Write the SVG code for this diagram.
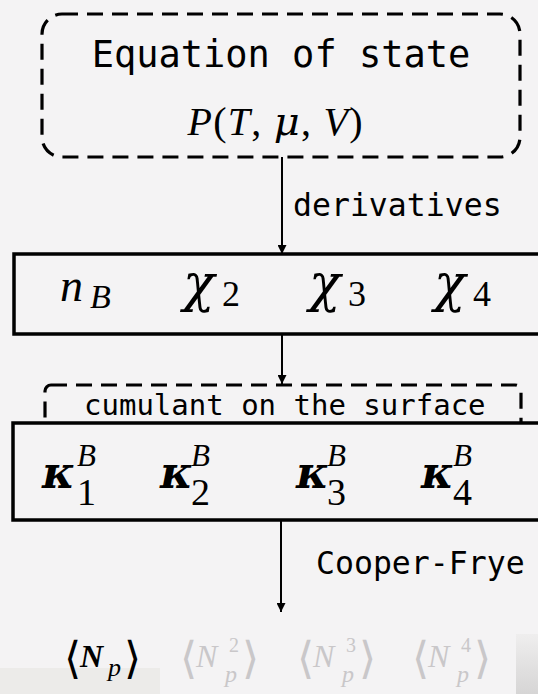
<svg xmlns="http://www.w3.org/2000/svg" width="538" height="694" viewBox="0 0 538 694">
<style>
.mono{font-family:"DejaVu Sans Mono",monospace;fill:#000}
.m{font-family:"Liberation Serif",serif;font-style:italic;fill:#000}
.r{font-family:"Liberation Serif",serif;font-style:normal;fill:#000}
.b{font-family:"Liberation Serif",serif;font-style:italic;font-weight:bold;fill:#000}
.gk{font-family:"DejaVu Serif",serif;font-style:italic;fill:#000}
.gkb{font-family:"DejaVu Serif",serif;font-style:italic;font-weight:bold;fill:#000}
.br{font-family:"DejaVu Serif",serif;font-style:normal;font-weight:normal}
.dash{fill:none;stroke:#000;stroke-width:3.2;stroke-dasharray:16 9}
.solid{fill:#f4f3f4;stroke:#000;stroke-width:3.5}
.conn{stroke:#000;stroke-width:2;fill:none}
.g{fill:#c9c7c9}
</style>
<defs>
<marker id="ah" viewBox="0 0 10 10" refX="10" refY="5" markerWidth="5" markerHeight="4.5" markerUnits="strokeWidth" orient="auto">
<path d="M0,0 L10,5 L0,10 z" fill="#000"/>
</marker>
<linearGradient id="shade" x1="0" y1="0" x2="0" y2="1">
<stop offset="0" stop-color="#efeeee"/>
<stop offset="1" stop-color="#d6d5d5"/>
</linearGradient>
</defs>
<rect x="0" y="0" width="538" height="694" fill="#f4f3f4"/>
<rect x="0" y="668" width="160" height="26" fill="#ecebe9"/>
<rect x="516" y="634" width="22" height="60" fill="url(#shade)"/>

<g id="eos">
<rect class="dash" x="42" y="14" width="478" height="143" rx="20"/>
<text class="mono" x="281" y="67" font-size="37" text-anchor="middle">Equation of state</text>
<text x="275" y="135" font-size="40" text-anchor="middle" textLength="175" lengthAdjust="spacing"><tspan class="m">P</tspan><tspan class="r">(</tspan><tspan class="m">T</tspan><tspan class="r">, </tspan><tspan class="gk">μ</tspan><tspan class="r">, </tspan><tspan class="m">V</tspan><tspan class="r">)</tspan></text>
</g>

<g id="susceptibilities">
<rect class="solid" x="14" y="254" width="540" height="80"/>
<text class="m" x="60" y="301" font-size="46">n</text>
<text class="m" x="90" y="308" font-size="34">B</text>
<text class="gk" x="183" y="301" font-size="52">χ</text>
<text class="r" x="222" y="306" font-size="36">2</text>
<text class="gk" x="309" y="301" font-size="52">χ</text>
<text class="r" x="348" y="306" font-size="36">3</text>
<text class="gk" x="434" y="301" font-size="52">χ</text>
<text class="r" x="473" y="306" font-size="36">4</text>
</g>

<g id="surface-label">
<rect class="dash" x="45" y="385" width="476" height="60" rx="6"/>
<text class="mono" x="84" y="415" font-size="29">cumulant on the surface</text>
</g>

<g id="cumulants">
<rect class="solid" x="13" y="423" width="540" height="97"/>
<text class="gkb" x="42" y="488" font-size="44">κ</text>
<text class="m" x="77" y="466" font-size="31">B</text>
<text class="r" x="77" y="505" font-size="38">1</text>
<text class="gkb" x="160" y="488" font-size="44">κ</text>
<text class="m" x="191" y="466" font-size="31">B</text>
<text class="r" x="191" y="505" font-size="38">2</text>
<text class="gkb" x="296" y="488" font-size="44">κ</text>
<text class="m" x="327" y="466" font-size="31">B</text>
<text class="r" x="327" y="505" font-size="38">3</text>
<text class="gkb" x="421" y="488" font-size="44">κ</text>
<text class="m" x="453" y="466" font-size="31">B</text>
<text class="r" x="453" y="505" font-size="38">4</text>
</g>

<g id="observables">
<text class="br" x="64" y="673" font-size="44" fill="#000">⟨</text>
<text class="b" x="80" y="667" font-size="32">N</text>
<text class="m" x="108" y="676" font-size="26">p</text>
<text class="br" x="124" y="673" font-size="44" fill="#000">⟩</text>

<text class="br g" x="180" y="673" font-size="44">⟨</text>
<text class="m g" x="196" y="667" font-size="32">N</text>
<text class="r g" x="229" y="652" font-size="20">2</text>
<text class="m g" x="225" y="682" font-size="24">p</text>
<text class="br g" x="242" y="673" font-size="44">⟩</text>

<text class="br g" x="297" y="673" font-size="44">⟨</text>
<text class="m g" x="313" y="667" font-size="32">N</text>
<text class="r g" x="346" y="652" font-size="20">3</text>
<text class="m g" x="342" y="682" font-size="24">p</text>
<text class="br g" x="359" y="673" font-size="44">⟩</text>

<text class="br g" x="412" y="673" font-size="44">⟨</text>
<text class="m g" x="428" y="667" font-size="32">N</text>
<text class="r g" x="461" y="652" font-size="20">4</text>
<text class="m g" x="457" y="682" font-size="24">p</text>
<text class="br g" x="474" y="673" font-size="44">⟩</text>
</g>

<g id="connectors">
<line class="conn" x1="282" y1="157" x2="282" y2="254" marker-end="url(#ah)"/>
<text class="mono" x="293" y="216" font-size="31.5">derivatives</text>
<line class="conn" x1="282" y1="334" x2="282" y2="384" marker-end="url(#ah)"/>
<line class="conn" x1="281" y1="520" x2="281" y2="612" marker-end="url(#ah)"/>
<text class="mono" x="316" y="574" font-size="31.5">Cooper-Frye</text>
</g>
</svg>
